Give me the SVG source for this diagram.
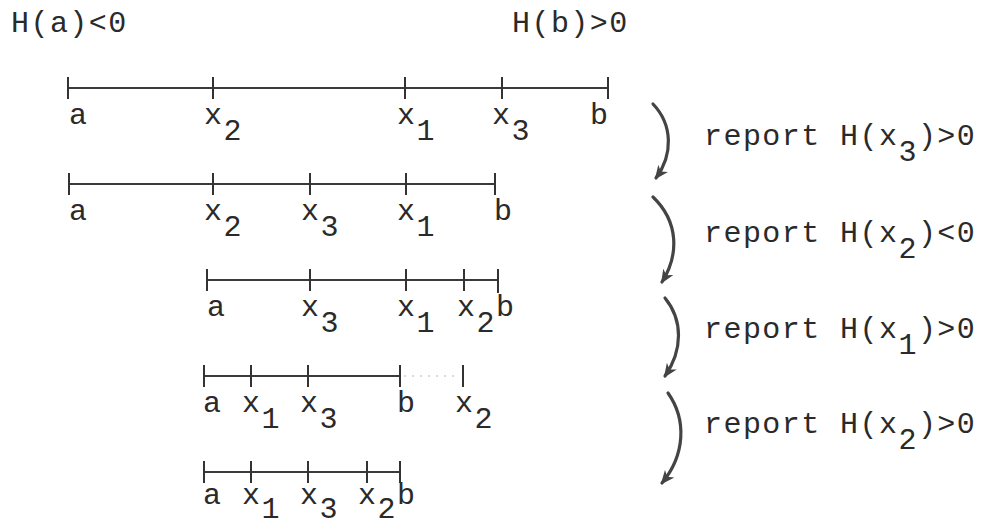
<svg xmlns="http://www.w3.org/2000/svg" width="984" height="529" viewBox="0 0 984 529">
<style>
  .t { font-family: "Liberation Mono", "Courier New", monospace; font-size: 30px; letter-spacing: 1.44px; fill: #2a2a2a; }
  .ln { stroke: #3a3a3a; stroke-width: 2; fill: none; }
  .tk { stroke: #333; stroke-width: 2; }
  .arc { stroke: #444; stroke-width: 3.2; fill: none; stroke-linecap: round; marker-end: url(#ah); }
  .faint { stroke: #d0d0d0; stroke-width: 1.5; stroke-dasharray: 2 6; }
</style>
<defs>
  <marker id="ah" viewBox="0 0 14 12" refX="12" refY="6" markerWidth="14" markerHeight="12" markerUnits="userSpaceOnUse" orient="auto">
    <path d="M0,0 L14,6 L0,12 L4,6 z" fill="#444"/>
  </marker>
</defs>

<g id="title">
  <text class="t" x="11" y="32">H(a)&lt;0</text>
  <text class="t" x="512" y="32">H(b)&gt;0</text>
</g>

<g id="row1">
  <line class="ln" x1="68" y1="88" x2="608" y2="88"/>
  <line class="tk" x1="68" y1="77" x2="68" y2="99"/>
  <line class="tk" x1="213" y1="77" x2="213" y2="99"/>
  <line class="tk" x1="405" y1="77" x2="405" y2="99"/>
  <line class="tk" x1="502" y1="77" x2="502" y2="99"/>
  <line class="tk" x1="608" y1="77" x2="608" y2="99"/>
  <text class="t" x="69" y="124">a</text>
  <text class="t" x="204" y="124">x<tspan dy="16">2</tspan></text>
  <text class="t" x="397" y="124">x<tspan dy="16">1</tspan></text>
  <text class="t" x="492" y="124">x<tspan dy="16">3</tspan></text>
  <text class="t" x="590" y="124">b</text>
</g>

<g id="row2">
  <line class="ln" x1="69" y1="184" x2="495" y2="184"/>
  <line class="tk" x1="69" y1="173" x2="69" y2="195"/>
  <line class="tk" x1="213" y1="173" x2="213" y2="195"/>
  <line class="tk" x1="310" y1="173" x2="310" y2="195"/>
  <line class="tk" x1="406" y1="173" x2="406" y2="195"/>
  <line class="tk" x1="495" y1="173" x2="495" y2="195"/>
  <text class="t" x="69" y="220">a</text>
  <text class="t" x="204" y="220">x<tspan dy="16">2</tspan></text>
  <text class="t" x="301" y="220">x<tspan dy="16">3</tspan></text>
  <text class="t" x="397" y="220">x<tspan dy="16">1</tspan></text>
  <text class="t" x="494" y="220">b</text>
</g>

<g id="row3">
  <line class="ln" x1="207" y1="280" x2="497" y2="280"/>
  <line class="tk" x1="207" y1="269" x2="207" y2="291"/>
  <line class="tk" x1="310" y1="269" x2="310" y2="291"/>
  <line class="tk" x1="406" y1="269" x2="406" y2="291"/>
  <line class="tk" x1="464" y1="269" x2="464" y2="291"/>
  <line class="tk" x1="498" y1="269" x2="498" y2="293"/>
  <text class="t" x="207" y="316">a</text>
  <text class="t" x="301" y="316">x<tspan dy="16">3</tspan></text>
  <text class="t" x="397" y="316">x<tspan dy="16">1</tspan></text>
  <text class="t" x="457" y="316">x<tspan dy="16">2</tspan><tspan dy="-16">b</tspan></text>
</g>

<g id="row4">
  <line class="ln" x1="204" y1="376" x2="400" y2="376"/>
  <line class="faint" x1="404" y1="376" x2="460" y2="376"/>
  <line class="tk" x1="204" y1="365" x2="204" y2="387"/>
  <line class="tk" x1="251" y1="365" x2="251" y2="387"/>
  <line class="tk" x1="308" y1="365" x2="308" y2="387"/>
  <line class="tk" x1="400" y1="365" x2="400" y2="387"/>
  <line class="tk" x1="463" y1="365" x2="463" y2="387"/>
  <text class="t" x="203" y="412">a</text>
  <text class="t" x="242" y="412">x<tspan dy="16">1</tspan></text>
  <text class="t" x="300" y="412">x<tspan dy="16">3</tspan></text>
  <text class="t" x="397" y="412">b</text>
  <text class="t" x="455" y="412">x<tspan dy="16">2</tspan></text>
</g>

<g id="row5">
  <line class="ln" x1="204" y1="472" x2="400" y2="472"/>
  <line class="tk" x1="204" y1="461" x2="204" y2="483"/>
  <line class="tk" x1="251" y1="461" x2="251" y2="483"/>
  <line class="tk" x1="308" y1="461" x2="308" y2="483"/>
  <line class="tk" x1="367" y1="461" x2="367" y2="483"/>
  <line class="tk" x1="400" y1="461" x2="400" y2="483"/>
  <text class="t" x="203" y="504">a</text>
  <text class="t" x="242" y="504">x<tspan dy="14">1</tspan></text>
  <text class="t" x="300" y="504">x<tspan dy="14">3</tspan></text>
  <text class="t" x="358" y="504">x<tspan dy="14">2</tspan><tspan dy="-14">b</tspan></text>
</g>

<g id="reports">
  <text class="t" x="704" y="145">report H(x<tspan dy="16">3</tspan><tspan dy="-16">)&gt;0</tspan></text>
  <text class="t" x="704" y="242">report H(x<tspan dy="16">2</tspan><tspan dy="-16">)&lt;0</tspan></text>
  <text class="t" x="704" y="338">report H(x<tspan dy="16">1</tspan><tspan dy="-16">)&gt;0</tspan></text>
  <text class="t" x="704" y="433">report H(x<tspan dy="16">2</tspan><tspan dy="-16">)&gt;0</tspan></text>
</g>

<g id="connectors">
  <path class="arc" d="M653,104 C673,125 673,155 656,178"/>
  <path class="arc" d="M653,197 C679,222 679,255 662,282"/>
  <path class="arc" d="M665,298 C683,320 683,350 665,376"/>
  <path class="arc" d="M668,393 C687,420 685,455 662,483"/>
</g>
</svg>
